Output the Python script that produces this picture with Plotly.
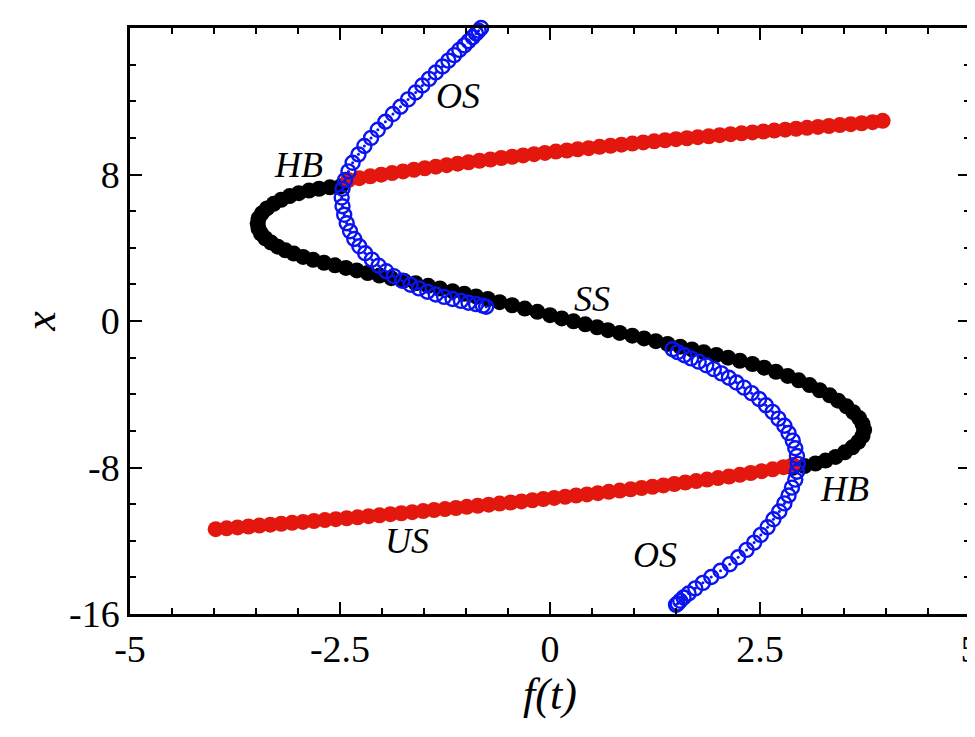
import plotly.graph_objects as go

black_f = [-2.49,-2.62,-2.75,-2.87,-2.99,-3.1,-3.2,-3.29,-3.37,-3.43,-3.47,-3.48,-3.47,-3.44,-3.39,-3.32,-3.24,-3.15,-3.05,-2.94,-2.82,-2.69,-2.56,-2.43,-2.3,-2.17,-2.03,-1.89,-1.74,-1.6,-1.45,-1.31,-1.16,-1.02,-0.88,-0.74,-0.6,-0.45,-0.3,-0.15,0.0,0.14,0.28,0.42,0.56,0.69,0.83,0.98,1.12,1.26,1.4,1.55,1.69,1.83,1.98,2.12,2.26,2.41,2.55,2.69,2.83,2.96,3.09,3.21,3.33,3.43,3.53,3.61,3.68,3.72,3.74,3.72,3.67,3.6,3.51,3.4,3.28,3.16,3.03,2.89]
black_x = [7.36,7.3,7.22,7.12,6.98,6.82,6.62,6.4,6.15,5.88,5.6,5.33,5.05,4.78,4.52,4.28,4.06,3.86,3.68,3.5,3.34,3.18,3.04,2.9,2.76,2.62,2.48,2.34,2.2,2.06,1.92,1.78,1.63,1.49,1.34,1.2,1.03,0.86,0.68,0.5,0.32,0.14,-0.02,-0.18,-0.34,-0.5,-0.65,-0.8,-0.95,-1.1,-1.25,-1.4,-1.55,-1.7,-1.85,-2.0,-2.17,-2.35,-2.55,-2.77,-3.0,-3.24,-3.5,-3.78,-4.06,-4.35,-4.66,-4.98,-5.3,-5.62,-5.95,-6.28,-6.6,-6.9,-7.17,-7.42,-7.62,-7.78,-7.92,-8.02]

red_up_f = [-2.4,-2.27,-2.14,-2.01,-1.88,-1.75,-1.62,-1.49,-1.36,-1.23,-1.1,-0.97,-0.84,-0.71,-0.58,-0.45,-0.32,-0.19,-0.06,0.07,0.2,0.33,0.46,0.59,0.72,0.85,0.98,1.11,1.24,1.37,1.5,1.63,1.76,1.89,2.02,2.15,2.28,2.41,2.54,2.67,2.8,2.93,3.06,3.19,3.32,3.45,3.58,3.71,3.84,3.96]
red_up_x = [7.7,7.8,7.9,7.99,8.08,8.17,8.26,8.34,8.43,8.51,8.59,8.67,8.75,8.82,8.9,8.97,9.04,9.11,9.18,9.25,9.31,9.38,9.44,9.51,9.57,9.63,9.69,9.75,9.81,9.87,9.93,9.98,10.04,10.09,10.15,10.2,10.25,10.3,10.35,10.4,10.45,10.5,10.55,10.6,10.65,10.7,10.75,10.8,10.86,10.93]

red_lo_f = [-3.98,-3.85,-3.72,-3.59,-3.46,-3.33,-3.2,-3.07,-2.94,-2.81,-2.68,-2.55,-2.42,-2.29,-2.16,-2.03,-1.9,-1.77,-1.64,-1.51,-1.38,-1.25,-1.12,-0.99,-0.86,-0.73,-0.6,-0.47,-0.34,-0.21,-0.08,0.05,0.18,0.31,0.44,0.57,0.7,0.83,0.96,1.09,1.22,1.35,1.48,1.61,1.74,1.87,2.0,2.13,2.26,2.39,2.52,2.65,2.78,2.89]
red_lo_x = [-11.37,-11.32,-11.27,-11.22,-11.17,-11.12,-11.07,-11.02,-10.97,-10.92,-10.87,-10.82,-10.77,-10.72,-10.66,-10.61,-10.55,-10.5,-10.44,-10.38,-10.32,-10.27,-10.21,-10.15,-10.09,-10.03,-9.97,-9.91,-9.85,-9.79,-9.72,-9.66,-9.6,-9.53,-9.47,-9.4,-9.33,-9.26,-9.19,-9.12,-9.05,-8.98,-8.9,-8.82,-8.74,-8.66,-8.58,-8.49,-8.4,-8.3,-8.2,-8.1,-7.98,-7.86]

blue_up_f = [-0.8,-0.82,-0.85,-0.88,-0.92,-0.97,-1.02,-1.08,-1.14,-1.21,-1.28,-1.36,-1.44,-1.52,-1.6,-1.69,-1.78,-1.87,-1.96,-2.05,-2.13,-2.21,-2.28,-2.35,-2.4,-2.44,-2.47,-2.48,-2.47,-2.45,-2.42,-2.38,-2.33,-2.27,-2.2,-2.12,-2.04,-1.95,-1.86,-1.76,-1.66,-1.56,-1.46,-1.36,-1.26,-1.16,-1.06,-0.97,-0.88,-0.8,-0.76]
blue_up_x = [16.1,16.0,15.85,15.7,15.5,15.28,15.05,14.8,14.52,14.22,13.9,13.57,13.22,12.86,12.48,12.1,11.7,11.3,10.88,10.44,10.0,9.56,9.1,8.64,8.17,7.7,7.22,6.74,6.27,5.8,5.34,4.9,4.48,4.08,3.7,3.35,3.02,2.72,2.45,2.2,1.98,1.78,1.6,1.45,1.32,1.2,1.1,1.0,0.92,0.84,0.78]

blue_lo_f = [1.46,1.52,1.6,1.68,1.77,1.86,1.95,2.04,2.13,2.22,2.31,2.4,2.49,2.57,2.65,2.72,2.79,2.84,2.89,2.92,2.94,2.95,2.94,2.92,2.88,2.84,2.79,2.73,2.66,2.59,2.51,2.43,2.34,2.24,2.14,2.03,1.92,1.82,1.73,1.65,1.59,1.55,1.52,1.5]
blue_lo_x = [-1.54,-1.7,-1.87,-2.04,-2.22,-2.42,-2.63,-2.86,-3.1,-3.36,-3.64,-3.94,-4.26,-4.6,-4.96,-5.33,-5.72,-6.12,-6.53,-6.95,-7.37,-7.8,-8.23,-8.66,-9.1,-9.53,-9.96,-10.4,-10.83,-11.26,-11.68,-12.1,-12.5,-12.9,-13.28,-13.64,-13.98,-14.3,-14.6,-14.88,-15.1,-15.28,-15.42,-15.5]

fig = go.Figure()
fig.add_trace(go.Scatter(x=black_f, y=black_x, mode="markers",
                         marker=dict(color="black", size=16), name="SS", cliponaxis=False))
fig.add_trace(go.Scatter(x=red_up_f, y=red_up_x, mode="markers",
                         marker=dict(color="#e3170d", size=16), name="HB up"))
fig.add_trace(go.Scatter(x=red_lo_f, y=red_lo_x, mode="markers",
                         marker=dict(color="#e3170d", size=16), name="US"))
for bf, bx in [(blue_up_f, blue_up_x), (blue_lo_f, blue_lo_x)]:
    fig.add_trace(go.Scatter(x=bf, y=bx, mode="markers", cliponaxis=False,
                             marker=dict(symbol="circle-open", color="#0a14f0", size=14,
                                         line=dict(width=2.4, color="#0a14f0"))))
    fig.add_trace(go.Scatter(x=bf, y=bx, mode="markers",
                             marker=dict(color="#0a14f0", size=3)))

serif = "Liberation Serif, Times New Roman, serif"
labels = [("OS", -1.1, 12.3), ("HB", -3.0, 8.5), ("SS", 0.5, 1.2), ("HB", 3.5, -9.2),
          ("US", -1.7, -12.0), ("OS", 1.25, -12.8)]
for t, ax, ay in labels:
    fig.add_annotation(x=ax, y=ay, text="<i>" + t + "</i>", showarrow=False,
                       font=dict(family=serif, size=36, color="black"))

axis_common = dict(showgrid=False, zeroline=False, showline=True, linecolor="black",
                   linewidth=2.5, mirror="ticks", ticks="inside", ticklen=12, tickwidth=2,
                   tickcolor="black", automargin=False,
                   tickfont=dict(family=serif, size=38, color="black"))
fig.update_xaxes(range=[-5, 5], tickvals=[-5, -2.5, 0, 2.5, 5], ticktext=["-5", "-2.5", "0", "2.5", "5"],
                 title=dict(text="<i>f(t)</i>", font=dict(family=serif, size=44, color="black"), standoff=0),
                 minor=dict(dtick=0.5, ticks="inside", ticklen=6, tickwidth=1.5, tickcolor="black"),
                 **axis_common)
fig.update_yaxes(range=[-16, 16], tickvals=[-16, -8, 0, 8, 16], ticktext=["-16", "-8", "0", "8", "16"],
                 title=dict(text="<i>x</i>", font=dict(family=serif, size=44, color="black"), standoff=0),
                 minor=dict(dtick=2, ticks="inside", ticklen=6, tickwidth=1.5, tickcolor="black"),
                 **axis_common)
fig.update_layout(width=975, height=737, margin=dict(l=122, r=13, t=20, b=131),
                  plot_bgcolor="white", paper_bgcolor="white", showlegend=False)
fig.write_html("out.html")
